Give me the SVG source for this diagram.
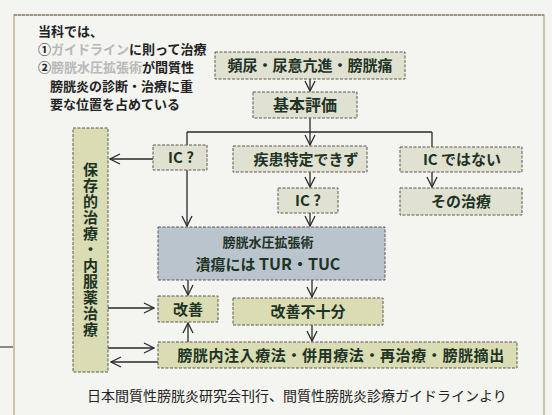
<svg xmlns="http://www.w3.org/2000/svg" width="552" height="415" viewBox="0 0 552 415">
<defs>
<style>
.bg{fill:#f4f4f0}
.frame{fill:none;stroke:#bdb48c;stroke-width:1.5}
.frameTop{stroke:#8a8a80;stroke-width:1.5;stroke-dasharray:3 1}
.box{fill:#e1e1d2;stroke:#5a5a55;stroke-width:1;stroke-dasharray:3 1.5}
.gbox{fill:#dadcb4;stroke:#5a5a50;stroke-width:1;stroke-dasharray:3 1.5}
.bbox{fill:#bac4cd;stroke:#5a5a60;stroke-width:1;stroke-dasharray:3 1.5}
.t{font-family:"Noto Sans CJK JP","Noto Sans",sans-serif;font-weight:700;font-size:15px;fill:#1d3324;text-anchor:middle}
.v{writing-mode:vertical-rl;text-orientation:upright;letter-spacing:1px}
.h{font-family:"Noto Sans CJK JP","Noto Sans",sans-serif;font-weight:700;font-size:13px;fill:#222}
.faint{fill:#b9b9b9}
.cap{font-family:"Noto Sans CJK JP","Noto Sans",sans-serif;font-weight:400;font-size:14px;fill:#222}
.c{fill:none;stroke:#2a2a2a;stroke-width:1.3}
</style>
<marker id="ah" viewBox="0 0 12 12" refX="11" refY="6" markerWidth="12" markerHeight="12" markerUnits="userSpaceOnUse" orient="auto">
<path d="M1,1 L11,6 L1,11" fill="none" stroke="#2a2a2a" stroke-width="1.3"/>
</marker>
</defs>
<rect class="bg" x="0" y="0" width="552" height="415"/>
<rect class="frame" x="14" y="15" width="530" height="410"/>
<line class="frameTop" x1="14" y1="15" x2="544" y2="15"/>
<line x1="0" y1="347" x2="13" y2="347" stroke="#444" stroke-width="1.2"/>

<g id="heading">
<text class="h" x="38" y="36">当科では、</text>
<text class="h" x="38" y="54">①<tspan class="faint">ガイドライン</tspan>に則って治療</text>
<text class="h" x="38" y="72">②<tspan class="faint">膀胱水圧拡張術</tspan>が間質性</text>
<text class="h" x="50" y="91">膀胱炎の診断・治療に重</text>
<text class="h" x="50" y="109">要な位置を占めている</text>
</g>

<g id="connectors">
<line class="c" x1="310" y1="79" x2="310" y2="91" marker-end="url(#ah)"/>
<line class="c" x1="310" y1="118" x2="310" y2="132"/>
<line class="c" x1="187" y1="132" x2="432" y2="132"/>
<line class="c" x1="310" y1="132" x2="310" y2="145" marker-end="url(#ah)"/>
<line class="c" x1="432" y1="132" x2="432" y2="147"/>
<line class="c" x1="187" y1="132" x2="187" y2="145"/>
<line class="c" x1="187" y1="170" x2="187" y2="226" marker-end="url(#ah)"/>
<line class="c" x1="153" y1="159" x2="110" y2="159" marker-end="url(#ah)"/>
<line class="c" x1="310" y1="172" x2="310" y2="187" marker-end="url(#ah)"/>
<line class="c" x1="310" y1="213" x2="310" y2="226" marker-end="url(#ah)"/>
<line class="c" x1="432" y1="172" x2="432" y2="187" marker-end="url(#ah)"/>
<line class="c" x1="188" y1="280" x2="188" y2="295" marker-end="url(#ah)"/>
<line class="c" x1="312" y1="280" x2="312" y2="297" marker-end="url(#ah)"/>
<line class="c" x1="312" y1="325" x2="312" y2="341" marker-end="url(#ah)"/>
<line class="c" x1="188" y1="342" x2="188" y2="323" marker-end="url(#ah)"/>
<line class="c" x1="108" y1="308" x2="154" y2="308" marker-end="url(#ah)"/>
<line class="c" x1="108" y1="348" x2="154" y2="348" marker-end="url(#ah)"/>
<line class="c" x1="158" y1="362" x2="111" y2="362" marker-end="url(#ah)"/>
</g>

<g id="n1"><rect class="box" x="215" y="52" width="190" height="27"/><text class="t" x="310" y="71">頻尿・尿意亢進・膀胱痛</text></g>
<g id="n2"><rect class="box" x="253" y="92" width="104" height="26"/><text class="t" x="305" y="111" style="font-size:16px">基本評価</text></g>
<g id="n3"><rect class="box" x="153" y="145" width="54" height="25"/><text class="t" x="181" y="163">IC ?</text></g>
<g id="n4"><rect class="box" x="233" y="146" width="134" height="26"/><text class="t" x="306" y="165">疾患特定できず</text></g>
<g id="n5"><rect class="box" x="400" y="147" width="122" height="25"/><text class="t" x="462" y="165">IC ではない</text></g>
<g id="n6"><rect class="box" x="278" y="188" width="60" height="25"/><text class="t" x="308" y="206">IC ?</text></g>
<g id="n7"><rect class="box" x="400" y="188" width="122" height="27"/><text class="t" x="461" y="207">その治療</text></g>
<g id="n8"><rect class="bbox" x="158" y="227" width="227" height="53"/>
<text class="t" x="268" y="247" style="font-size:13px">膀胱水圧拡張術</text>
<text class="t" x="268" y="270">潰瘍には <tspan style="font-size:16px">TUR・TUC</tspan></text></g>
<g id="n9"><rect class="gbox" x="158" y="296" width="60" height="26"/><text class="t" x="188" y="315">改善</text></g>
<g id="n10"><rect class="gbox" x="233" y="298" width="150" height="27"/><text class="t" x="308" y="317">改善不十分</text></g>
<g id="n11"><rect class="gbox" x="158" y="342" width="359" height="26"/><text class="t" x="341" y="361" style="letter-spacing:0.6px">膀胱内注入療法・併用療法・再治療・膀胱摘出</text></g>
<g id="n12"><rect class="gbox" x="73" y="128" width="35" height="244"/>
<text class="t v" x="90.5" y="250">保存的治療・内服薬治療</text></g>

<text class="cap" x="87" y="401">日本間質性膀胱炎研究会刊行、間質性膀胱炎診療ガイドラインより</text>
</svg>
